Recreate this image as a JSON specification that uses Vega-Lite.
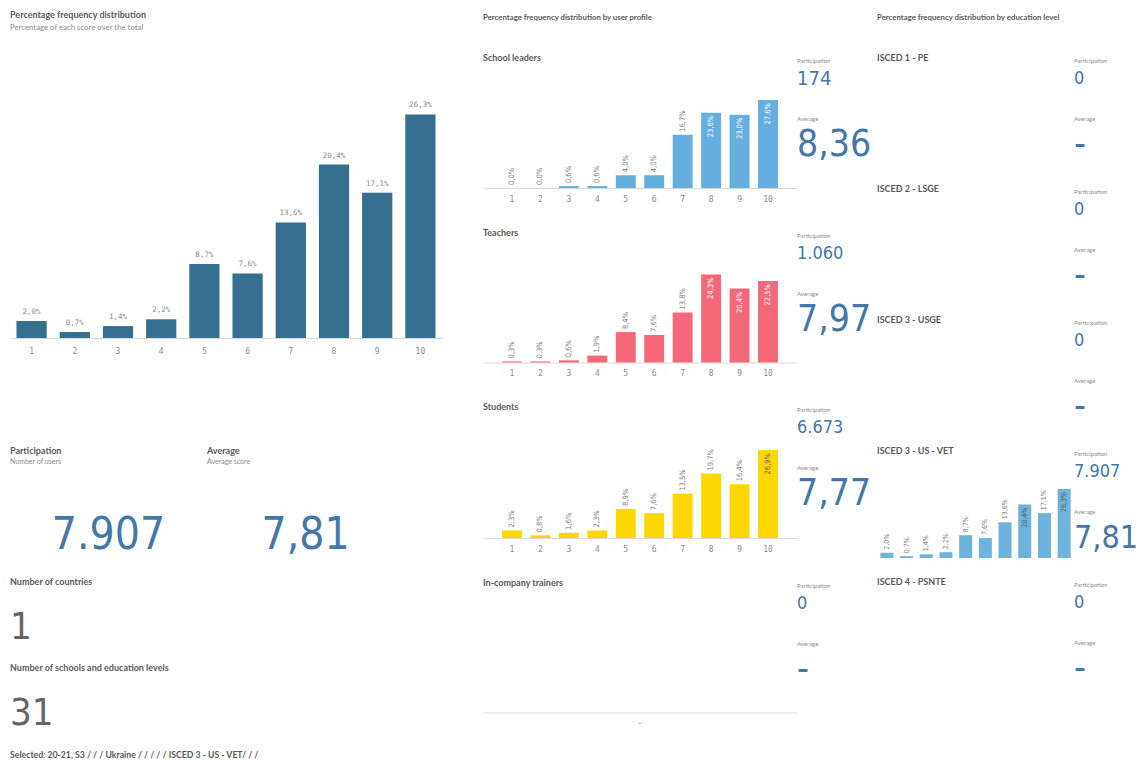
{
  "$schema": "https://vega.github.io/schema/vega-lite/v6.json",
  "background": "white",
  "padding": {"left": 10, "top": 11, "right": 0, "bottom": 0},
  "config": {
    "view": {"stroke": null},
    "font": "Lato",
    "title": {"anchor": "start", "color": "#595959", "fontSize": 9, "fontWeight": "bold", "font": "Lato", "subtitleFont": "Lato", "subtitleColor": "#8c8c8c", "subtitleFontSize": 7, "subtitleFontWeight": "normal", "subtitlePadding": 2, "offset": 4},
    "axis": {"domainColor": "#d9d9d9", "ticks": false, "grid": false, "labelColor": "#8c8c8c", "labelFont": "DejaVu Sans Mono", "labelFontSize": 8, "labelAngle": 0, "labelPadding": 7},
    "locale": {"number": {"decimal": ",", "thousands": ".", "grouping": [3], "currency": ["", " €"]}}
  },
  "datasets": {
    "overall": [
      {"score": 1, "pct": 0.020}, {"score": 2, "pct": 0.007}, {"score": 3, "pct": 0.014}, {"score": 4, "pct": 0.022}, {"score": 5, "pct": 0.087},
      {"score": 6, "pct": 0.076}, {"score": 7, "pct": 0.136}, {"score": 8, "pct": 0.204}, {"score": 9, "pct": 0.171}, {"score": 10, "pct": 0.263}
    ],
    "profiles": [
      {"profile": "School leaders", "score": 1, "pct": 0.000}, {"profile": "School leaders", "score": 2, "pct": 0.000}, {"profile": "School leaders", "score": 3, "pct": 0.006}, {"profile": "School leaders", "score": 4, "pct": 0.006}, {"profile": "School leaders", "score": 5, "pct": 0.040},
      {"profile": "School leaders", "score": 6, "pct": 0.040}, {"profile": "School leaders", "score": 7, "pct": 0.167}, {"profile": "School leaders", "score": 8, "pct": 0.236}, {"profile": "School leaders", "score": 9, "pct": 0.230}, {"profile": "School leaders", "score": 10, "pct": 0.276},
      {"profile": "Teachers", "score": 1, "pct": 0.003}, {"profile": "Teachers", "score": 2, "pct": 0.003}, {"profile": "Teachers", "score": 3, "pct": 0.006}, {"profile": "Teachers", "score": 4, "pct": 0.019}, {"profile": "Teachers", "score": 5, "pct": 0.084},
      {"profile": "Teachers", "score": 6, "pct": 0.076}, {"profile": "Teachers", "score": 7, "pct": 0.138}, {"profile": "Teachers", "score": 8, "pct": 0.243}, {"profile": "Teachers", "score": 9, "pct": 0.204}, {"profile": "Teachers", "score": 10, "pct": 0.225},
      {"profile": "Students", "score": 1, "pct": 0.023}, {"profile": "Students", "score": 2, "pct": 0.008}, {"profile": "Students", "score": 3, "pct": 0.016}, {"profile": "Students", "score": 4, "pct": 0.023}, {"profile": "Students", "score": 5, "pct": 0.089},
      {"profile": "Students", "score": 6, "pct": 0.076}, {"profile": "Students", "score": 7, "pct": 0.135}, {"profile": "Students", "score": 8, "pct": 0.197}, {"profile": "Students", "score": 9, "pct": 0.164}, {"profile": "Students", "score": 10, "pct": 0.269}
    ],
    "education": [
      {"level": "ISCED 3 - US - VET", "score": 1, "pct": 0.020}, {"level": "ISCED 3 - US - VET", "score": 2, "pct": 0.007}, {"level": "ISCED 3 - US - VET", "score": 3, "pct": 0.014}, {"level": "ISCED 3 - US - VET", "score": 4, "pct": 0.022}, {"level": "ISCED 3 - US - VET", "score": 5, "pct": 0.087},
      {"level": "ISCED 3 - US - VET", "score": 6, "pct": 0.076}, {"level": "ISCED 3 - US - VET", "score": 7, "pct": 0.136}, {"level": "ISCED 3 - US - VET", "score": 8, "pct": 0.204}, {"level": "ISCED 3 - US - VET", "score": 9, "pct": 0.171}, {"level": "ISCED 3 - US - VET", "score": 10, "pct": 0.263}
    ],
    "kpis": [
      {"group": "School leaders", "participation": 174, "average": 8.36},
      {"group": "Teachers", "participation": 1060, "average": 7.97},
      {"group": "Students", "participation": 6673, "average": 7.77},
      {"group": "In-company trainers", "participation": 0, "average": null},
      {"group": "ISCED 1 - PE", "participation": 0, "average": null},
      {"group": "ISCED 2 - LSGE", "participation": 0, "average": null},
      {"group": "ISCED 3 - USGE", "participation": 0, "average": null},
      {"group": "ISCED 3 - US - VET", "participation": 7907, "average": 7.81},
      {"group": "ISCED 4 - PSNTE", "participation": 0, "average": null}
    ],
    "totals": [{"participation": 7907, "average": 7.81, "countries": 1, "schools": 31}]
  },
  "spacing": 0,
  "hconcat": [
    {
      "spacing": 0,
      "vconcat": [
        {
          "width": 432, "height": 34,
          "title": {"text": "Percentage frequency distribution", "subtitle": "Percentage of each score over the total", "fontSize": 9, "subtitleFontSize": 7.8, "subtitlePadding": 3.5, "offset": 34.5},
          "data": {"values": []}, "mark": "text", "encoding": {}
        },
        {
          "width": 432, "height": 238,
          "data": {"name": "overall"},
          "encoding": {
            "x": {"field": "score", "type": "ordinal", "scale": {"paddingInner": 0.3, "paddingOuter": 0.15}, "axis": {"title": null, "labelPadding": 9}},
            "y": {"field": "pct", "type": "quantitative", "scale": {"domain": [0, 0.28]}, "axis": null}
          },
          "layer": [
            {"mark": {"type": "bar", "color": "#35708f"}},
            {"mark": {"type": "text", "baseline": "bottom", "dy": -5, "font": "DejaVu Sans Mono", "fontSize": 7.5, "color": "#8c8c8c"},
             "encoding": {"text": {"field": "pct", "type": "quantitative", "format": ".1%"}}}
          ]
        },
        {"width": 1, "height": 91.5, "data": {"values": []}, "mark": "text", "encoding": {}},
        {
          "spacing": 0,
          "hconcat": [
            {
              "width": 197, "height": 109,
              "title": {"text": "Participation", "subtitle": "Number of users"},
              "data": {"name": "totals"},
              "mark": {"type": "text", "align": "center", "baseline": "middle", "font": "DejaVu Sans Condensed, DejaVu Sans, sans-serif", "fontSize": 44, "color": "#4477aa"},
              "encoding": {
                "y": {"datum": 0.381, "type": "quantitative", "scale": {"domain": [0, 1]}, "axis": null},
                "text": {"field": "participation", "type": "quantitative", "format": ",d"}
              }
            },
            {
              "width": 197, "height": 109,
              "title": {"text": "Average", "subtitle": "Average score"},
              "data": {"name": "totals"},
              "mark": {"type": "text", "align": "center", "baseline": "middle", "font": "DejaVu Sans Condensed, DejaVu Sans, sans-serif", "fontSize": 44, "color": "#4477aa"},
              "encoding": {
                "y": {"datum": 0.381, "type": "quantitative", "scale": {"domain": [0, 1]}, "axis": null},
                "text": {"field": "average", "type": "quantitative", "format": ".2f"}
              }
            }
          ]
        },
        {
          "width": 197, "height": 73,
          "title": {"text": "Number of countries"},
          "data": {"name": "totals"},
          "mark": {"type": "text", "align": "left", "baseline": "middle", "font": "DejaVu Sans Condensed, DejaVu Sans, sans-serif", "fontSize": 38, "color": "#666666"},
          "encoding": {
            "x": {"datum": 0, "type": "quantitative", "scale": {"domain": [0, 1]}, "axis": null},
            "text": {"field": "countries", "type": "quantitative"}
          }
        },
        {
          "width": 197, "height": 74,
          "title": {"text": "Number of schools and education levels"},
          "data": {"name": "totals"},
          "mark": {"type": "text", "align": "left", "baseline": "middle", "font": "DejaVu Sans Condensed, DejaVu Sans, sans-serif", "fontSize": 38, "color": "#666666"},
          "encoding": {
            "x": {"datum": 0, "type": "quantitative", "scale": {"domain": [0, 1]}, "axis": null},
            "text": {"field": "schools", "type": "quantitative"}
          }
        },
        {
          "width": 473, "height": 1,
          "title": {"text": "Selected: 20-21, S3 / / / Ukraine / / / / / ISCED 3 - US - VET/ / /", "fontSize": 8.7, "offset": 0},
          "data": {"values": []}, "mark": "text", "encoding": {}
        }
      ]
    },
    {
      "title": {"text": "Percentage frequency distribution by user profile", "fontSize": 7.8, "offset": 32},
      "spacing": 25.5,
      "vconcat": [
        {
          "spacing": 0,
          "hconcat": [
            {
              "spacing": 0,
              "vconcat": [
                {"width": 314, "height": 34, "title": {"text": "School leaders", "offset": 3}, "data": {"values": []}, "mark": "text", "encoding": {}},
                {
                  "width": 314, "height": 88,
                  "data": {"name": "profiles"},
                  "transform": [{"filter": "datum.profile == 'School leaders'"}],
                  "encoding": {
                    "x": {"field": "score", "type": "ordinal", "scale": {"paddingInner": 0.3, "paddingOuter": 0.67}, "axis": {"title": null}},
                    "y": {"field": "pct", "type": "quantitative", "scale": {"nice": false}, "axis": null}
                  },
                  "layer": [
                    {"mark": {"type": "bar", "color": "#65aee0"}},
                    {"transform": [{"filter": "datum.pct < 0.2"}], "mark": {"type": "text", "angle": 270, "align": "left", "baseline": "middle", "dx": 3, "font": "DejaVu Sans Condensed, DejaVu Sans, sans-serif", "fontSize": 7.5, "color": "#808080"}, "encoding": {"text": {"field": "pct", "type": "quantitative", "format": ".1%"}}},
                    {"transform": [{"filter": "datum.pct >= 0.2"}], "mark": {"type": "text", "angle": 270, "align": "right", "baseline": "middle", "dx": -3, "font": "DejaVu Sans Condensed, DejaVu Sans, sans-serif", "fontSize": 7.5, "color": "#ffffff"}, "encoding": {"text": {"field": "pct", "type": "quantitative", "format": ".1%"}}}
                  ]
                }
              ]
            },
            {
              "spacing": 24,
              "vconcat": [
                {"width": 80, "height": 26, "title": {"text": "Participation", "fontSize": 6, "fontWeight": "normal", "color": "#8c8c8c", "offset": 2},
                 "data": {"name": "kpis"}, "transform": [{"filter": "datum.group == 'School leaders'"}],
                 "mark": {"type": "text", "align": "left", "baseline": "middle", "font": "DejaVu Sans Condensed, DejaVu Sans, sans-serif", "fontSize": 20, "color": "#4477aa"},
                 "encoding": {"x": {"datum": 0, "type": "quantitative", "scale": {"domain": [0, 1]}, "axis": null}, "text": {"field": "participation", "type": "quantitative", "format": ",d"}}},
                {"width": 80, "height": 42, "title": {"text": "Average", "fontSize": 6, "fontWeight": "normal", "color": "#8c8c8c", "offset": 2},
                 "data": {"name": "kpis"}, "transform": [{"filter": "datum.group == 'School leaders'"}],
                 "mark": {"type": "text", "align": "left", "baseline": "middle", "font": "DejaVu Sans Condensed, DejaVu Sans, sans-serif", "fontSize": 37, "color": "#4477aa"},
                 "encoding": {"x": {"datum": 0, "type": "quantitative", "scale": {"domain": [0, 1]}, "axis": null}, "text": {"condition": {"test": "datum.average == null", "value": "-"}, "field": "average", "type": "quantitative", "format": ".2f"}}}
              ]
            }
          ]
        },
        {
          "spacing": 0,
          "hconcat": [
            {
              "spacing": 0,
              "vconcat": [
                {"width": 314, "height": 34, "title": {"text": "Teachers", "offset": 3}, "data": {"values": []}, "mark": "text", "encoding": {}},
                {
                  "width": 314, "height": 88,
                  "data": {"name": "profiles"},
                  "transform": [{"filter": "datum.profile == 'Teachers'"}],
                  "encoding": {
                    "x": {"field": "score", "type": "ordinal", "scale": {"paddingInner": 0.3, "paddingOuter": 0.67}, "axis": {"title": null}},
                    "y": {"field": "pct", "type": "quantitative", "scale": {"nice": false}, "axis": null}
                  },
                  "layer": [
                    {"mark": {"type": "bar", "color": "#f5687a"}},
                    {"transform": [{"filter": "datum.pct < 0.2"}], "mark": {"type": "text", "angle": 270, "align": "left", "baseline": "middle", "dx": 3, "font": "DejaVu Sans Condensed, DejaVu Sans, sans-serif", "fontSize": 7.5, "color": "#808080"}, "encoding": {"text": {"field": "pct", "type": "quantitative", "format": ".1%"}}},
                    {"transform": [{"filter": "datum.pct >= 0.2"}], "mark": {"type": "text", "angle": 270, "align": "right", "baseline": "middle", "dx": -3, "font": "DejaVu Sans Condensed, DejaVu Sans, sans-serif", "fontSize": 7.5, "color": "#ffffff"}, "encoding": {"text": {"field": "pct", "type": "quantitative", "format": ".1%"}}}
                  ]
                }
              ]
            },
            {
              "spacing": 24,
              "vconcat": [
                {"width": 80, "height": 26, "title": {"text": "Participation", "fontSize": 6, "fontWeight": "normal", "color": "#8c8c8c", "offset": 2},
                 "data": {"name": "kpis"}, "transform": [{"filter": "datum.group == 'Teachers'"}],
                 "mark": {"type": "text", "align": "left", "baseline": "middle", "font": "DejaVu Sans Condensed, DejaVu Sans, sans-serif", "fontSize": 18, "color": "#4477aa"},
                 "encoding": {"x": {"datum": 0, "type": "quantitative", "scale": {"domain": [0, 1]}, "axis": null}, "text": {"field": "participation", "type": "quantitative", "format": ",d"}}},
                {"width": 80, "height": 42, "title": {"text": "Average", "fontSize": 6, "fontWeight": "normal", "color": "#8c8c8c", "offset": 2},
                 "data": {"name": "kpis"}, "transform": [{"filter": "datum.group == 'Teachers'"}],
                 "mark": {"type": "text", "align": "left", "baseline": "middle", "font": "DejaVu Sans Condensed, DejaVu Sans, sans-serif", "fontSize": 37, "color": "#4477aa"},
                 "encoding": {"x": {"datum": 0, "type": "quantitative", "scale": {"domain": [0, 1]}, "axis": null}, "text": {"condition": {"test": "datum.average == null", "value": "-"}, "field": "average", "type": "quantitative", "format": ".2f"}}}
              ]
            }
          ]
        },
        {
          "spacing": 0,
          "hconcat": [
            {
              "spacing": 0,
              "vconcat": [
                {"width": 314, "height": 34, "title": {"text": "Students", "offset": 3}, "data": {"values": []}, "mark": "text", "encoding": {}},
                {
                  "width": 314, "height": 88,
                  "data": {"name": "profiles"},
                  "transform": [{"filter": "datum.profile == 'Students'"}],
                  "encoding": {
                    "x": {"field": "score", "type": "ordinal", "scale": {"paddingInner": 0.3, "paddingOuter": 0.67}, "axis": {"title": null}},
                    "y": {"field": "pct", "type": "quantitative", "scale": {"nice": false}, "axis": null}
                  },
                  "layer": [
                    {"mark": {"type": "bar", "color": "#fdd800"}},
                    {"transform": [{"filter": "datum.pct < 0.2"}], "mark": {"type": "text", "angle": 270, "align": "left", "baseline": "middle", "dx": 3, "font": "DejaVu Sans Condensed, DejaVu Sans, sans-serif", "fontSize": 7.5, "color": "#808080"}, "encoding": {"text": {"field": "pct", "type": "quantitative", "format": ".1%"}}},
                    {"transform": [{"filter": "datum.pct >= 0.2"}], "mark": {"type": "text", "angle": 270, "align": "right", "baseline": "middle", "dx": -3, "font": "DejaVu Sans Condensed, DejaVu Sans, sans-serif", "fontSize": 7.5, "color": "#666666"}, "encoding": {"text": {"field": "pct", "type": "quantitative", "format": ".1%"}}}
                  ]
                }
              ]
            },
            {
              "spacing": 24,
              "vconcat": [
                {"width": 80, "height": 26, "title": {"text": "Participation", "fontSize": 6, "fontWeight": "normal", "color": "#8c8c8c", "offset": 2},
                 "data": {"name": "kpis"}, "transform": [{"filter": "datum.group == 'Students'"}],
                 "mark": {"type": "text", "align": "left", "baseline": "middle", "font": "DejaVu Sans Condensed, DejaVu Sans, sans-serif", "fontSize": 18, "color": "#4477aa"},
                 "encoding": {"x": {"datum": 0, "type": "quantitative", "scale": {"domain": [0, 1]}, "axis": null}, "text": {"field": "participation", "type": "quantitative", "format": ",d"}}},
                {"width": 80, "height": 42, "title": {"text": "Average", "fontSize": 6, "fontWeight": "normal", "color": "#8c8c8c", "offset": 2},
                 "data": {"name": "kpis"}, "transform": [{"filter": "datum.group == 'Students'"}],
                 "mark": {"type": "text", "align": "left", "baseline": "middle", "font": "DejaVu Sans Condensed, DejaVu Sans, sans-serif", "fontSize": 37, "color": "#4477aa"},
                 "encoding": {"x": {"datum": 0, "type": "quantitative", "scale": {"domain": [0, 1]}, "axis": null}, "text": {"condition": {"test": "datum.average == null", "value": "-"}, "field": "average", "type": "quantitative", "format": ".2f"}}}
              ]
            }
          ]
        },
        {
          "spacing": 0,
          "hconcat": [
            {
              "spacing": 0,
              "vconcat": [
                {"width": 314, "height": 34, "title": {"text": "In-company trainers", "offset": 3}, "data": {"values": []}, "mark": "text", "encoding": {}},
                {
                  "width": 314, "height": 88,
                  "data": {"name": "profiles"},
                  "transform": [{"filter": "datum.profile == 'In-company trainers'"}],
                  "encoding": {
                    "x": {"field": "score", "type": "ordinal", "scale": {"domain": ["-"]}, "axis": {"title": null}},
                    "y": {"field": "pct", "type": "quantitative", "scale": {"domain": [0, 1]}, "axis": null}
                  },
                  "mark": {"type": "bar", "color": "#65aee0"}
                }
              ]
            },
            {
              "spacing": 24,
              "vconcat": [
                {"width": 80, "height": 26, "title": {"text": "Participation", "fontSize": 6, "fontWeight": "normal", "color": "#8c8c8c", "offset": 2},
                 "data": {"name": "kpis"}, "transform": [{"filter": "datum.group == 'In-company trainers'"}],
                 "mark": {"type": "text", "align": "left", "baseline": "middle", "font": "DejaVu Sans Condensed, DejaVu Sans, sans-serif", "fontSize": 18, "color": "#4477aa"},
                 "encoding": {"x": {"datum": 0, "type": "quantitative", "scale": {"domain": [0, 1]}, "axis": null}, "text": {"field": "participation", "type": "quantitative", "format": ",d"}}},
                {"width": 80, "height": 42, "title": {"text": "Average", "fontSize": 6, "fontWeight": "normal", "color": "#8c8c8c", "offset": 2},
                 "data": {"name": "kpis"}, "transform": [{"filter": "datum.group == 'In-company trainers'"}],
                 "mark": {"type": "text", "align": "left", "baseline": "middle", "font": "DejaVu Sans Condensed, DejaVu Sans, sans-serif", "fontSize": 37, "color": "#4477aa"},
                 "encoding": {"x": {"datum": 0, "type": "quantitative", "scale": {"domain": [0, 1]}, "axis": null}, "text": {"condition": {"test": "datum.average == null", "value": "-"}, "field": "average", "type": "quantitative", "format": ".2f"}}}
              ]
            }
          ]
        }
      ]
    },
    {
      "title": {"text": "Percentage frequency distribution by education level", "fontSize": 7.8, "offset": 32},
      "spacing": 19,
      "vconcat": [
        {
          "spacing": 0,
          "hconcat": [
            {"width": 197, "height": 10, "title": {"text": "ISCED 1 - PE", "offset": 3}, "data": {"values": []}, "mark": "text", "encoding": {}},
            {
              "spacing": 24,
              "vconcat": [
                {"width": 69, "height": 26, "title": {"text": "Participation", "fontSize": 6, "fontWeight": "normal", "color": "#8c8c8c", "offset": 2},
                 "data": {"name": "kpis"}, "transform": [{"filter": "datum.group == 'ISCED 1 - PE'"}],
                 "mark": {"type": "text", "align": "left", "baseline": "middle", "font": "DejaVu Sans Condensed, DejaVu Sans, sans-serif", "fontSize": 18, "color": "#4477aa"},
                 "encoding": {"x": {"datum": 0, "type": "quantitative", "scale": {"domain": [0, 1]}, "axis": null}, "text": {"field": "participation", "type": "quantitative", "format": ",d"}}},
                {"width": 69, "height": 42, "title": {"text": "Average", "fontSize": 6, "fontWeight": "normal", "color": "#8c8c8c", "offset": 2},
                 "data": {"name": "kpis"}, "transform": [{"filter": "datum.group == 'ISCED 1 - PE'"}],
                 "mark": {"type": "text", "align": "left", "baseline": "middle", "font": "DejaVu Sans Condensed, DejaVu Sans, sans-serif", "fontSize": 37, "color": "#4477aa"},
                 "encoding": {"x": {"datum": 0, "type": "quantitative", "scale": {"domain": [0, 1]}, "axis": null}, "text": {"condition": {"test": "datum.average == null", "value": "-"}, "field": "average", "type": "quantitative", "format": ".2f"}}}
              ]
            }
          ]
        },
        {
          "spacing": 0,
          "hconcat": [
            {"width": 197, "height": 10, "title": {"text": "ISCED 2 - LSGE", "offset": 3}, "data": {"values": []}, "mark": "text", "encoding": {}},
            {
              "spacing": 24,
              "vconcat": [
                {"width": 69, "height": 26, "title": {"text": "Participation", "fontSize": 6, "fontWeight": "normal", "color": "#8c8c8c", "offset": 2},
                 "data": {"name": "kpis"}, "transform": [{"filter": "datum.group == 'ISCED 2 - LSGE'"}],
                 "mark": {"type": "text", "align": "left", "baseline": "middle", "font": "DejaVu Sans Condensed, DejaVu Sans, sans-serif", "fontSize": 18, "color": "#4477aa"},
                 "encoding": {"x": {"datum": 0, "type": "quantitative", "scale": {"domain": [0, 1]}, "axis": null}, "text": {"field": "participation", "type": "quantitative", "format": ",d"}}},
                {"width": 69, "height": 42, "title": {"text": "Average", "fontSize": 6, "fontWeight": "normal", "color": "#8c8c8c", "offset": 2},
                 "data": {"name": "kpis"}, "transform": [{"filter": "datum.group == 'ISCED 2 - LSGE'"}],
                 "mark": {"type": "text", "align": "left", "baseline": "middle", "font": "DejaVu Sans Condensed, DejaVu Sans, sans-serif", "fontSize": 37, "color": "#4477aa"},
                 "encoding": {"x": {"datum": 0, "type": "quantitative", "scale": {"domain": [0, 1]}, "axis": null}, "text": {"condition": {"test": "datum.average == null", "value": "-"}, "field": "average", "type": "quantitative", "format": ".2f"}}}
              ]
            }
          ]
        },
        {
          "spacing": 0,
          "hconcat": [
            {"width": 197, "height": 10, "title": {"text": "ISCED 3 - USGE", "offset": 3}, "data": {"values": []}, "mark": "text", "encoding": {}},
            {
              "spacing": 24,
              "vconcat": [
                {"width": 69, "height": 26, "title": {"text": "Participation", "fontSize": 6, "fontWeight": "normal", "color": "#8c8c8c", "offset": 2},
                 "data": {"name": "kpis"}, "transform": [{"filter": "datum.group == 'ISCED 3 - USGE'"}],
                 "mark": {"type": "text", "align": "left", "baseline": "middle", "font": "DejaVu Sans Condensed, DejaVu Sans, sans-serif", "fontSize": 18, "color": "#4477aa"},
                 "encoding": {"x": {"datum": 0, "type": "quantitative", "scale": {"domain": [0, 1]}, "axis": null}, "text": {"field": "participation", "type": "quantitative", "format": ",d"}}},
                {"width": 69, "height": 42, "title": {"text": "Average", "fontSize": 6, "fontWeight": "normal", "color": "#8c8c8c", "offset": 2},
                 "data": {"name": "kpis"}, "transform": [{"filter": "datum.group == 'ISCED 3 - USGE'"}],
                 "mark": {"type": "text", "align": "left", "baseline": "middle", "font": "DejaVu Sans Condensed, DejaVu Sans, sans-serif", "fontSize": 37, "color": "#4477aa"},
                 "encoding": {"x": {"datum": 0, "type": "quantitative", "scale": {"domain": [0, 1]}, "axis": null}, "text": {"condition": {"test": "datum.average == null", "value": "-"}, "field": "average", "type": "quantitative", "format": ".2f"}}}
              ]
            }
          ]
        },
        {
          "spacing": 0,
          "hconcat": [
            {
              "spacing": 0,
              "vconcat": [
                {"width": 197, "height": 30, "title": {"text": "ISCED 3 - US - VET", "offset": 3}, "data": {"values": []}, "mark": "text", "encoding": {}},
                {
                  "width": 197, "height": 69,
                  "data": {"name": "education"},
                  "encoding": {
                    "x": {"field": "score", "type": "ordinal", "scale": {"paddingInner": 0.34, "paddingOuter": 0.17}, "axis": null},
                    "y": {"field": "pct", "type": "quantitative", "scale": {"nice": false}, "axis": null}
                  },
                  "layer": [
                    {"mark": {"type": "bar", "color": "#6eb3dc"}},
                    {"transform": [{"filter": "datum.pct < 0.2"}], "mark": {"type": "text", "angle": 270, "align": "left", "baseline": "middle", "dx": 3, "font": "DejaVu Sans Condensed, DejaVu Sans, sans-serif", "fontSize": 7, "color": "#808080"}, "encoding": {"text": {"field": "pct", "type": "quantitative", "format": ".1%"}}},
                    {"transform": [{"filter": "datum.pct >= 0.2"}], "mark": {"type": "text", "angle": 270, "align": "right", "baseline": "middle", "dx": -3, "font": "DejaVu Sans Condensed, DejaVu Sans, sans-serif", "fontSize": 7, "color": "#595959"}, "encoding": {"text": {"field": "pct", "type": "quantitative", "format": ".1%"}}}
                  ]
                }
              ]
            },
            {
              "spacing": 24,
              "vconcat": [
                {"width": 69, "height": 26, "title": {"text": "Participation", "fontSize": 6, "fontWeight": "normal", "color": "#8c8c8c", "offset": 2},
                 "data": {"name": "kpis"}, "transform": [{"filter": "datum.group == 'ISCED 3 - US - VET'"}],
                 "mark": {"type": "text", "align": "left", "baseline": "middle", "font": "DejaVu Sans Condensed, DejaVu Sans, sans-serif", "fontSize": 18, "color": "#4477aa"},
                 "encoding": {"x": {"datum": 0, "type": "quantitative", "scale": {"domain": [0, 1]}, "axis": null}, "text": {"field": "participation", "type": "quantitative", "format": ",d"}}},
                {"width": 69, "height": 42, "title": {"text": "Average", "fontSize": 6, "fontWeight": "normal", "color": "#8c8c8c", "offset": 2},
                 "data": {"name": "kpis"}, "transform": [{"filter": "datum.group == 'ISCED 3 - US - VET'"}],
                 "mark": {"type": "text", "align": "left", "baseline": "middle", "font": "DejaVu Sans Condensed, DejaVu Sans, sans-serif", "fontSize": 32, "color": "#4477aa"},
                 "encoding": {"x": {"datum": 0, "type": "quantitative", "scale": {"domain": [0, 1]}, "axis": null}, "text": {"condition": {"test": "datum.average == null", "value": "-"}, "field": "average", "type": "quantitative", "format": ".2f"}}}
              ]
            }
          ]
        },
        {
          "spacing": 0,
          "hconcat": [
            {"width": 197, "height": 10, "title": {"text": "ISCED 4 - PSNTE", "offset": 3}, "data": {"values": []}, "mark": "text", "encoding": {}},
            {
              "spacing": 24,
              "vconcat": [
                {"width": 69, "height": 26, "title": {"text": "Participation", "fontSize": 6, "fontWeight": "normal", "color": "#8c8c8c", "offset": 2},
                 "data": {"name": "kpis"}, "transform": [{"filter": "datum.group == 'ISCED 4 - PSNTE'"}],
                 "mark": {"type": "text", "align": "left", "baseline": "middle", "font": "DejaVu Sans Condensed, DejaVu Sans, sans-serif", "fontSize": 18, "color": "#4477aa"},
                 "encoding": {"x": {"datum": 0, "type": "quantitative", "scale": {"domain": [0, 1]}, "axis": null}, "text": {"field": "participation", "type": "quantitative", "format": ",d"}}},
                {"width": 69, "height": 42, "title": {"text": "Average", "fontSize": 6, "fontWeight": "normal", "color": "#8c8c8c", "offset": 2},
                 "data": {"name": "kpis"}, "transform": [{"filter": "datum.group == 'ISCED 4 - PSNTE'"}],
                 "mark": {"type": "text", "align": "left", "baseline": "middle", "font": "DejaVu Sans Condensed, DejaVu Sans, sans-serif", "fontSize": 37, "color": "#4477aa"},
                 "encoding": {"x": {"datum": 0, "type": "quantitative", "scale": {"domain": [0, 1]}, "axis": null}, "text": {"condition": {"test": "datum.average == null", "value": "-"}, "field": "average", "type": "quantitative", "format": ".2f"}}}
              ]
            }
          ]
        }
      ]
    }
  ]
}
